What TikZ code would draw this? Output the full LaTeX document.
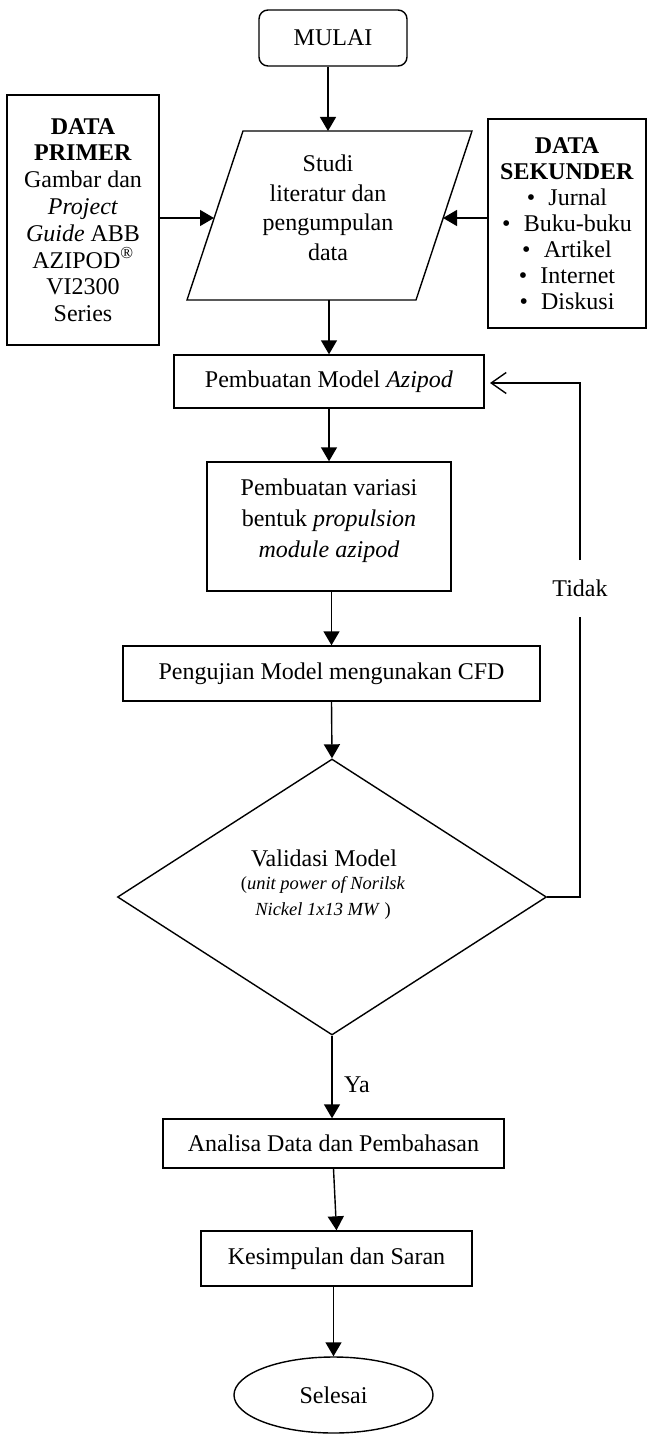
\documentclass[tikz,border=0pt]{standalone}
\usepackage{fontspec}
\setmainfont{Liberation Serif}
\usetikzlibrary{arrows.meta,shapes.geometric}
\begin{document}
\begin{tikzpicture}[x=1pt,y=-1pt,
  line width=1.4pt,
  mainfont/.style={font=\fontsize{24}{27}\selectfont},
  box/.style={draw, rectangle, inner sep=0pt, align=center, mainfont},
  txt/.style={inner sep=0pt, align=center, mainfont},
  arr/.style={-{Triangle[length=14pt,width=16pt]}},
  openarr/.style={-{Straight Barb[length=15pt,width=21pt]}}]
\useasboundingbox (0,0) rectangle (647,1434);

% start
\node[box, rounded corners=9pt, minimum width=148pt, minimum height=56pt] (mulai) at (333,38) {MULAI};

% parallelogram
\coordinate (pTL) at (243,131);
\coordinate (pTR) at (472,131);
\coordinate (pBR) at (416,300);
\coordinate (pBL) at (187,300);
\draw (pTL) -- (pTR) -- (pBR) -- (pBL) -- cycle;
\coordinate (pTop) at (328,131);
\coordinate (pBot) at (329,300);
\coordinate (pLeft) at (214,218);
\coordinate (pRight) at (443,218);
\node[txt, font=\fontsize{24}{29.5}\selectfont] (studi) at (328,208) {Studi\\literatur dan\\pengumpulan\\data};

% side boxes
\node[box, minimum width=152pt, minimum height=250pt, font=\fontsize{24}{26.8}\selectfont] (primer) at (83,220)
  {\textbf{DATA}\\\textbf{PRIMER}\\Gambar dan\\\textit{Project}\\\textit{Guide} ABB\\AZIPOD\textsuperscript{®}\\VI2300\\Series};
\node[box, minimum width=158pt, minimum height=209pt, font=\fontsize{24}{26}\selectfont] (sekunder) at (567,223.5)
  {\textbf{DATA}\\\textbf{SEKUNDER}\\\textbullet\hspace{0.55em}Jurnal\\\textbullet\hspace{0.55em}Buku-buku\\\textbullet\hspace{0.55em}Artikel\\\textbullet\hspace{0.55em}Internet\\\textbullet\hspace{0.55em}Diskusi};

% process boxes
\node[box, minimum width=310pt, minimum height=53pt] (model) at (329,381.5) {Pembuatan Model \textit{Azipod}};
\node[box, minimum width=244pt, minimum height=129pt] (variasi) at (329,526.5) {};
\node[txt, font=\fontsize{24}{31}\selectfont] (variasiT) at (329,521) {Pembuatan variasi\\bentuk \textit{propulsion}\\\textit{module azipod}};
\node[box, minimum width=417pt, minimum height=55pt] (uji) at (331.5,673.5) {Pengujian Model mengunakan CFD};

% decision
\node[draw, diamond, inner sep=0pt, minimum width=429pt, minimum height=276pt] (val) at (332,897) {};
\node[txt] (valT) at (324,858) {Validasi Model};
\node[txt, font=\fontsize{18.5}{26}\selectfont] (valS) at (323,898) {(\textit{unit power of Norilsk}\\\textit{Nickel 1x13 MW} )};

\node[box, minimum width=341pt, minimum height=49pt] (analisa) at (333.5,1143.5) {Analisa Data dan Pembahasan};
\node[box, minimum width=271pt, minimum height=55pt] (kesimpulan) at (336.5,1258.5) {Kesimpulan dan Saran};
\node[draw, ellipse, inner sep=0pt, minimum width=199pt, minimum height=76pt, mainfont] (selesai) at (333.5,1395) {Selesai};

% labels
\node[txt] (ya) at (357,1085) {Ya};
\node[txt] (tidak) at (580,588) {Tidak};

% connectors
\draw[arr] (pTop |- mulai.south) -- (pTop);
\draw[arr] (primer.east |- pLeft) -- (pLeft);
\draw[arr] (sekunder.west |- pRight) -- (pRight);
\draw[arr] (pBot) -- (pBot |- model.north);
\draw[arr] (model.south) -- (variasi.north);
\draw[arr] (uji.north |- variasi.south) -- (uji.north);
\draw[arr] (uji.south) -- (val.north);
\draw[arr] (val.south) -- (val.south |- analisa.north);
\draw[arr] (analisa.south) -- (kesimpulan.north);
\draw[arr] (selesai.north |- kesimpulan.south) -- (selesai.north);

% feedback loop
\coordinate (fbB) at (580,897);
\coordinate (fbG1) at (580,617);
\coordinate (fbG2) at (580,560);
\coordinate (fbT) at (580,383);
\coordinate (fbTip) at (490,383);
\draw (val.east) -- (fbB) -- (fbG1);
\draw[openarr] (fbG2) -- (fbT) -- (fbTip);
\end{tikzpicture}
\end{document}
